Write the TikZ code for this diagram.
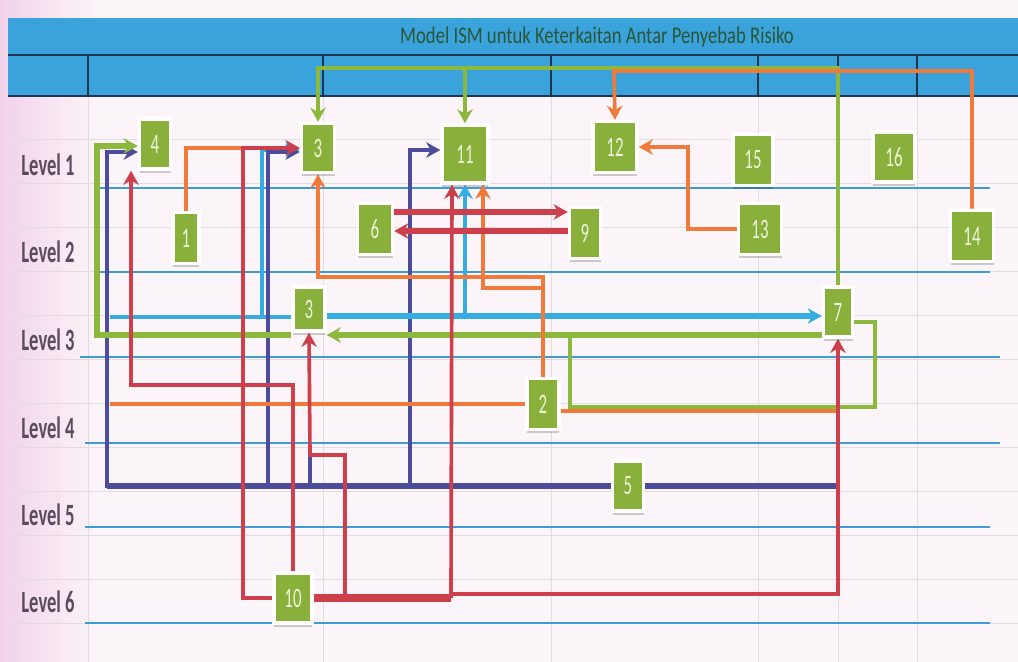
\documentclass[tikz,border=0pt]{standalone}
\usepackage{fontspec}
\newfontfamily\lvlfont[FakeStretch=0.6]{Carlito}
\newfontfamily\numfont[FakeStretch=0.6]{Carlito}
\newfontfamily\ttlfont[FakeStretch=0.78]{Carlito}
\usetikzlibrary{arrows.meta,shadows}
\pgfdeclarelayer{bg}
\pgfdeclarelayer{links}
\pgfsetlayers{bg,links,main}

\definecolor{bgpink}{HTML}{FBF4F8}
\definecolor{pinkedge}{HTML}{F1D2EA}
\definecolor{gridgray}{HTML}{E2DCE0}
\definecolor{hdrblue}{HTML}{3BA3DC}
\definecolor{hdrdark}{HTML}{1F3550}
\definecolor{ttlgreen}{HTML}{2A5636}
\definecolor{isgreen}{HTML}{89B03A}
\definecolor{numwhite}{HTML}{EEF3DA}
\definecolor{lvlblue}{HTML}{3D9BD8}
\definecolor{lbltext}{HTML}{5A4B5D}
\definecolor{lngreen}{HTML}{8CB83E}
\definecolor{lnorange}{HTML}{F07A3A}
\definecolor{lnred}{HTML}{CC3F4B}
\definecolor{lnindigo}{HTML}{4B4C9C}
\definecolor{lncyan}{HTML}{35ACE2}

\tikzset{
  factor/.style 2 args={fill=isgreen, draw=white, line width=2.5pt,
    minimum width=#1*0.025cm, minimum height=#2*0.025cm, inner sep=0pt,
    font=\numfont\fontsize{20}{20}\selectfont, text=numwhite,
    drop shadow={shadow xshift=0pt, shadow yshift=-2.5pt, fill=black, opacity=.18}},
  lvl/.style={font=\lvlfont\bfseries\fontsize{22}{22}\selectfont, text=lbltext},
  lvlline/.style={lvlblue, line width=1.1pt},
  grn/.style={lngreen, line width=2.6pt},
  org/.style={lnorange, line width=2.6pt},
  rd/.style={lnred, line width=2.6pt},
  ind/.style={lnindigo, line width=2.6pt},
  cyn/.style={lncyan, line width=2.6pt},
  thk/.style={line width=4pt},
}

\begin{document}
\begin{tikzpicture}[x=0.025cm,y=-0.025cm,>={Stealth[length=10pt,width=11pt]}]
  \useasboundingbox (0,0) rectangle (1018,662);

  % sheet, grid and header
  \begin{pgfonlayer}{bg}
    \fill[bgpink] (0,0) rectangle (1018,662);
    \shade[left color=pinkedge, right color=bgpink] (0,0) rectangle (95,662);
    \foreach \y in {139,183,...,623} {
      \draw[gridgray, line width=.6pt] (8,\y) -- (1018,\y);
    }
    \foreach \x in {88,323,551,758,838,917} {
      \draw[gridgray, line width=.6pt] (\x,96) -- (\x,662);
    }
    \fill[hdrblue] (8,18) rectangle (1018,96);
    \draw[hdrdark, line width=1.2pt] (8,55) -- (1018,55) (8,96) -- (1018,96);
    \foreach \x in {88,323,551,758,838,917} {
      \draw[hdrdark, line width=.8pt] (\x,55) -- (\x,96);
    }
    \node[font=\ttlfont\fontsize{17}{18}\selectfont, text=ttlgreen] (title) at (597,37)
      {Model ISM untuk Keterkaitan Antar Penyebab Risiko};
    \foreach \y/\a/\b in {188/95/990, 272/95/990, 357/80/1000, 443/85/1000, 527/85/990, 623/85/990} {
      \draw[lvlline] (\a,\y) -- (\b,\y);
    }
    \foreach \y [count=\i] in {165,252,340,428,515,602} {
      \node[lvl] (lv\i) at (48,\y) {Level \i};
    }
  \end{pgfonlayer}

  % factors
  \node[factor={31}{50}] (f4) at (155,144) {4};
  \node[factor={33}{49}] (f3a) at (318,148) {3};
  \node[factor={46}{58}] (f11) at (465,154) {11};
  \node[factor={44}{51}] (f12) at (615,147) {12};
  \node[factor={40}{51}] (f15) at (753,160) {15};
  \node[factor={42}{50}] (f16) at (894,157) {16};
  \node[factor={26}{51}] (f1) at (186,238) {1};
  \node[factor={35}{51}] (f6) at (375,229) {6};
  \node[factor={31}{51}] (f9) at (585,233) {9};
  \node[factor={43}{51}] (f13) at (760,229) {13};
  \node[factor={43}{51}] (f14) at (972,236) {14};
  \node[factor={32}{44}] (f3b) at (309,309) {3};
  \node[factor={29}{50}] (f7) at (838,312) {7};
  \node[factor={32}{51}] (f2) at (543,404) {2};
  \node[factor={31}{50}] (f5) at (628,486) {5};
  \node[factor={38}{50}] (f10) at (293,598) {10};

  \begin{pgfonlayer}{links}
    % top bus
    \draw[grn,->] (f7.north) |- (318,68) -- (f3a.north);
    \draw[grn,->] (465,68) -- (f11.north);
    \draw[org,->] (f14.north) |- (614,71) -- (f12.north);
    \draw[org,->] (f13.west) -| (688,147) -- (f12.east);
    % into 3 and 4
    \draw[org,->] (f1.north) |- (f3a.west);
    \draw[cyn,->] (f3b.west |- 0,317) -| (262,150) -- (f3a.west |- 0,150);
    \draw[cyn] (262,317) -- (110,317);
    \draw[ind,->] (268,486) |- (f3a.west |- 0,152);
    \draw[ind,->] (f5.west) -| (107,152) -- (f4.west |- 0,152);
    \draw[ind,->] (410,486) |- (f11.west |- 0,150);
    \draw[ind] (310,486) -- (310,455);
    \draw[ind,thk] (f5.west) -- (107,486);
    \draw[ind,thk] (f5.east) -- (836,486);
    \draw[grn,thk,->] (f3b.west |- 0,335) -| (97,146) -- (f4.west |- 0,146);
    % level 3 links
    \draw[grn,thk,->] (f7.west |- 0,335) -- (f3b.east |- 0,335);
    \draw[grn] (f7.east |- 0,322) -| (875,407) -| (570,335);
    \draw[cyn,thk,->] (f3b.east |- 0,316) -- (f7.west |- 0,316);
    \draw[cyn,->] (465,316) -- (f11.south);
    % from 2
    \draw[org,->] (f2.north) |- (318,277) -- (f3a.south);
    \draw[org,->] (543,288) -| (f11.south -| 483,0);
    \draw[org] (f2.west) -- (110,404);
    \draw[org] (f2.east |- 0,411) -- (836,411);
    % from 10
    \draw[rd,->] (f10.west) -| (243,148) -- (f3a.west);
    \draw[rd,->] (f10.north) |- (131,385) -- (f4.south -| 131,0);
    \draw[rd,line width=5.5pt] (f10.east) -- (451,598);
    \draw[rd,->] (345,598) |- (310,455) -- (f3b.south);
    \draw[rd,->] (451,598) -- (f11.south -| 452,0);
    \draw[rd,->] (451,594) -| (f7.south);
    % 6 and 9
    \draw[rd,thk,->] (f6.east |- 0,212) -- (f9.west |- 0,212);
    \draw[rd,thk,->] (f9.west |- 0,231) -- (f6.east |- 0,231);
  \end{pgfonlayer}
\end{tikzpicture}
\end{document}
